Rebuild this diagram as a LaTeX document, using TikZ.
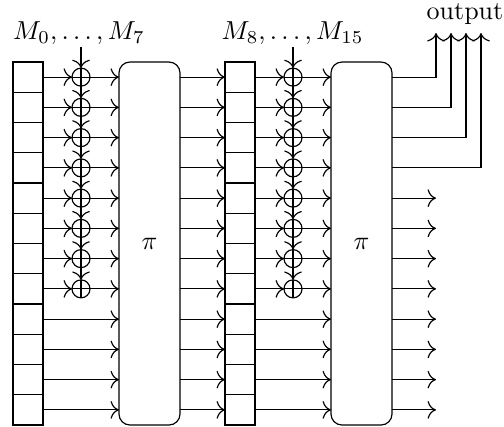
\documentclass[tikz,border=0pt]{standalone}
\usetikzlibrary{calc,arrows.meta}
\begin{document}
\begin{tikzpicture}[x=0.3846pt, y=-0.3846pt, >={To[scale=1.25]}, line width=0.45pt,
  cell/.style={minimum width=11.54pt, minimum height=11.63pt, inner sep=0pt, outer sep=0pt},
  reg/.style={draw, minimum width=11.54pt, minimum height=139.6pt, inner sep=0pt, outer sep=0pt},
  perm/.style={draw, rounded corners=4.2pt, minimum width=23.46pt, minimum height=139.6pt, inner sep=0pt, outer sep=0pt},
  xorgate/.style={draw, circle, minimum size=6.92pt, inner sep=0pt, outer sep=0pt,
    path picture={\draw (path picture bounding box.north) -- (path picture bounding box.south)
      (path picture bounding box.west) -- (path picture bounding box.east);}},
  lbl/.style={inner sep=0pt}]
\useasboundingbox (0,0) rectangle (504,426);
% registers
\node[reg] (r1) at (28,243.5) {};
\node[reg] (r2) at (240,243.5) {};
\foreach \i in {1,...,12}{
  \pgfmathsetmacro{\yy}{77.125+30.25*(\i-1)}
  \node[cell] (a\i) at (28,\yy) {};
  \node[cell] (b\i) at (240,\yy) {};
}
\foreach \i in {1,...,11}{
  \draw (a\i.south west) -- (a\i.south east);
  \draw (b\i.south west) -- (b\i.south east);
}
% permutations
\node[perm] (p1) at (149.5,243.5) {$\pi$};
\node[perm] (p2) at (361.5,243.5) {$\pi$};
% xor gates
\foreach \i in {1,...,8}{
  \pgfmathsetmacro{\yy}{77.125+30.25*(\i-1)}
  \node[xorgate] (x\i) at (81,\yy) {};
  \node[xorgate] (y\i) at (293,\yy) {};
}
% labels
\node[lbl] (l1) at (79,33) {$M_0,\ldots,M_7$};
\node[lbl] (l2) at (292.5,33) {$M_8,\ldots,M_{15}$};
\node[lbl] (out) at (465,14) {output};
% key input lines
\coordinate (t1) at (81,47);
\coordinate (t2) at (293,47);
\draw[->] (t1) -- (x1.north);
\draw[->] (t2) -- (y1.north);
\foreach \i [evaluate=\i as \j using int(\i+1)] in {1,...,7}{
  \draw[->] (x\i.south) -- (x\j.north);
  \draw[->] (y\i.south) -- (y\j.north);
}
% data lines
\foreach \i in {1,...,8}{
  \draw[->] (a\i.east) -- (x\i.west);
  \draw[->] (x\i.east) -- (p1.west |- a\i);
  \draw[->] (b\i.east) -- (y\i.west);
  \draw[->] (y\i.east) -- (p2.west |- b\i);
}
\foreach \i in {9,...,12}{
  \draw[->] (a\i.east) -- (p1.west |- a\i);
  \draw[->] (b\i.east) -- (p2.west |- b\i);
}
\foreach \i in {1,...,12}{
  \draw[->] (p1.east |- a\i) -- (b\i.west);
}
% outputs
\foreach \i in {5,...,12}{
  \coordinate (o\i) at (436,0 |- b\i);
  \draw[->] (p2.east |- b\i) -- (o\i);
}
\foreach \i in {1,...,4}{
  \pgfmathsetmacro{\xx}{436+15*(\i-1)}
  \coordinate (u\i) at (\xx,33);
  \draw[->] (p2.east |- b\i) -| (u\i);
}
\end{tikzpicture}
\end{document}
